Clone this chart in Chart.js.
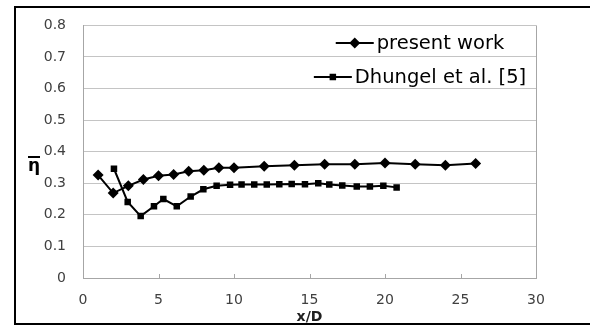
<!DOCTYPE html>
<html>
<head>
<meta charset="utf-8">
<script src="https://cdn.jsdelivr.net/npm/chart.js@4/dist/chart.umd.min.js"></script>
<style>
  html, body { margin: 0; padding: 0; background: #fff; overflow: hidden; }
  #frame { position: absolute; left: 14px; top: 6px; width: 600px; height: 315px; border: 2px solid #000; }
  #wrap { position: absolute; left: 0; top: 0; width: 590px; height: 327px; }
</style>
</head>
<body>
<div id="frame"></div>
<div id="wrap"><canvas id="c" width="590" height="327"></canvas></div>
<script>
// Mean effectiveness along the wall, x/D
const presentX = [1, 2, 3, 4, 5, 6, 7, 8, 9, 10, 12, 14, 16, 18, 20, 22, 24, 26];
const presentEta = [0.326, 0.269, 0.292, 0.312, 0.324, 0.328, 0.338, 0.341, 0.349, 0.349,
                    0.354, 0.357, 0.360, 0.360, 0.364, 0.360, 0.357, 0.363];

const dhungelX = [2.05, 2.96, 3.82, 4.70, 5.32, 6.21, 7.13, 7.97, 8.85, 9.74, 10.5, 11.34,
                  12.17, 13.0, 13.82, 14.7, 15.58, 16.31, 17.17, 18.13, 19.0, 19.89, 20.77];
const dhungelEta = [0.346, 0.241, 0.196, 0.227, 0.250, 0.227, 0.258, 0.281, 0.292, 0.295, 0.296, 0.296,
                    0.296, 0.297, 0.298, 0.297, 0.300, 0.296, 0.293, 0.290, 0.290, 0.292, 0.287];

const seriesNames = ['present work', 'Dhungel et al. [5]'];
const xTitle = 'x/D';
const yTitle = '\u03B7';

const toPoints = (xs, ys) => xs.map((x, i) => ({ x: x, y: ys[i] }));

const FONT = 'DejaVu Sans';

// Plot frame, inner x tick marks, eta label and in-plot legend
const decorations = {
  id: 'decorations',
  beforeDatasetsDraw(chart) {
    const { ctx, chartArea: a, scales } = chart;
    ctx.save();
    ctx.strokeStyle = '#a6a6a6';
    ctx.lineWidth = 1;
    ctx.beginPath();
    ctx.moveTo(Math.round(a.right) + 0.5, a.top);
    ctx.lineTo(Math.round(a.right) + 0.5, a.bottom);
    ctx.stroke();
    ctx.beginPath();
    scales.x.ticks.forEach(t => {
      const px = Math.round(scales.x.getPixelForValue(t.value)) + 0.5;
      ctx.moveTo(px, a.bottom);
      ctx.lineTo(px, a.bottom - 4);
    });
    ctx.stroke();
    ctx.restore();
  },
  afterDraw(chart) {
    const { ctx } = chart;
    ctx.save();
    // y label: eta with overbar
    ctx.fillStyle = '#000';
    ctx.font = 'bold 17px ' + FONT;
    ctx.textAlign = 'center';
    ctx.textBaseline = 'middle';
    const ex = 34, ey = 167;
    ctx.fillText(yTitle, ex, ey);
    ctx.fillRect(ex - 6, ey - 11, 12, 2);

    // legend
    const cx = 420;
    const rowsY = [43, 77];
    ctx.font = '19.5px ' + FONT;
    ctx.textAlign = 'left';
    chart.data.datasets.forEach((ds, i) => {
      const label = ds.label;
      const lineLen = 38, gap = 3;
      const tw = ctx.measureText(label).width;
      const total = lineLen + gap + tw;
      const x0 = cx - total / 2;
      const y = rowsY[i];
      ctx.strokeStyle = ds.borderColor;
      ctx.lineWidth = ds.borderWidth;
      ctx.beginPath();
      ctx.moveTo(x0, y);
      ctx.lineTo(x0 + lineLen, y);
      ctx.stroke();
      ctx.fillStyle = ds.pointBackgroundColor;
      ctx.beginPath();
      Chart.helpers.drawPoint(ctx, {
        pointStyle: ds.pointStyle, radius: ds.pointRadius, rotation: 0, borderWidth: 0
      }, x0 + lineLen / 2, y);
      ctx.fillStyle = '#000';
      ctx.textBaseline = 'middle';
      ctx.fillText(label, x0 + lineLen + gap, y + 1);
    });
    ctx.restore();
  }
};

new Chart(document.getElementById('c'), {
  type: 'scatter',
  data: {
    datasets: [
      {
        label: seriesNames[0],
        data: toPoints(presentX, presentEta),
        showLine: true,
        borderColor: '#000',
        borderWidth: 2,
        pointStyle: 'rectRot',
        pointRadius: 5.5,
        pointBackgroundColor: '#000',
        pointBorderColor: '#000',
        pointBorderWidth: 0
      },
      {
        label: seriesNames[1],
        data: toPoints(dhungelX, dhungelEta),
        showLine: true,
        borderColor: '#000',
        borderWidth: 2,
        pointStyle: 'rect',
        pointRadius: 4.6,
        pointBackgroundColor: '#000',
        pointBorderColor: '#000',
        pointBorderWidth: 0
      }
    ]
  },
  options: {
    responsive: false,
    animation: false,
    devicePixelRatio: 1,
    layout: { padding: { left: 0, top: 21, right: 54, bottom: 0 } },
    plugins: { legend: { display: false }, tooltip: { enabled: false } },
    scales: {
      x: {
        type: 'linear',
        min: 0, max: 30,
        afterFit(s) { s.height = 49; },
        ticks: { stepSize: 5, color: '#404040', font: { family: FONT, size: 14 }, padding: 14, maxRotation: 0 },
        grid: { drawOnChartArea: false, drawTicks: false },
        border: { color: '#a6a6a6', width: 1 },
        title: { display: true, text: xTitle, color: '#202020', font: { family: FONT, size: 14, weight: 'bold' }, padding: { top: 0, bottom: 1 } }
      },
      y: {
        min: 0, max: 0.8,
        afterFit(s) { s.width = 83; },
        ticks: { stepSize: 0.1, color: '#404040', font: { family: FONT, size: 14 }, padding: 17 },
        grid: { color: '#c4c4c4', drawTicks: false },
        border: { color: '#a6a6a6', width: 1 }
      }
    }
  },
  plugins: [decorations]
});
</script>
</body>
</html>
